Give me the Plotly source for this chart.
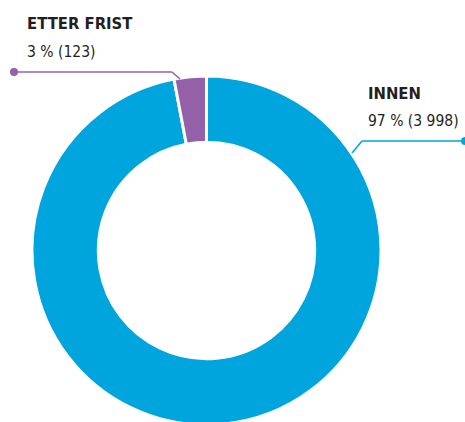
import plotly.graph_objects as go

# data
labels = ["INNEN", "ETTER FRIST"]
values = [3998, 123]
percents = ["97 %", "3 %"]
counts = ["3 998", "123"]
colors = ["#00A5DE", "#9461A9"]

W, H = 465, 426
FONT = "DejaVu Sans Condensed, Liberation Sans Narrow, Roboto, sans-serif"
TEXT_COLOR = "#231F20"


def px(x, y):
    """pixel position -> paper coords"""
    return x / W, 1 - y / H


fig = go.Figure(
    go.Pie(
        labels=labels,
        values=values,
        hole=0.62,
        sort=False,
        direction="clockwise",
        rotation=0,
        marker=dict(colors=colors, line=dict(color="white", width=3)),
        textinfo="none",
        hoverinfo="label+value",
        domain=dict(x=[32 / W, 381 / W], y=[1 - 425 / H, 1 - 76 / H]),
    )
)

# label blocks
blocks = [
    (labels[1], f"{percents[1]} ({counts[1]})", 26, 23, 52),
    (labels[0], f"{percents[0]} ({counts[0]})", 367, 94, 121),
]
for head, sub, x, y1, y2 in blocks:
    ax, ay = px(x, y1)
    fig.add_annotation(x=ax, y=ay, xref="paper", yref="paper", text=f"<b>{head}</b>",
                       showarrow=False, xanchor="left", yanchor="middle", xshift=-1,
                       font=dict(family=FONT, size=16.5, color=TEXT_COLOR))
    ax, ay = px(x, y2)
    fig.add_annotation(x=ax, y=ay, xref="paper", yref="paper", text=sub,
                       showarrow=False, xanchor="left", yanchor="middle", xshift=-1,
                       font=dict(family=FONT, size=15.5, color=TEXT_COLOR))

# leader lines
leaders = [
    (colors[1], [(14, 72), (172, 72), (180, 79)]),
    (colors[0], [(465, 141), (362, 141), (352, 153)]),
]
for col, pts in leaders:
    for (xa, ya), (xb, yb) in zip(pts[:-1], pts[1:]):
        x0, y0 = px(xa, ya)
        x1, y1 = px(xb, yb)
        fig.add_shape(type="line", xref="paper", yref="paper", x0=x0, y0=y0, x1=x1, y1=y1,
                      line=dict(color=col, width=1.5))
    cx, cy = px(*pts[0])
    r = 4
    fig.add_shape(type="circle", xref="paper", yref="paper",
                  x0=cx - r / W, x1=cx + r / W, y0=cy - r / H, y1=cy + r / H,
                  fillcolor=col, line=dict(width=0))

fig.update_layout(
    width=W,
    height=H,
    margin=dict(l=0, r=0, t=0, b=0),
    showlegend=False,
    paper_bgcolor="white",
    plot_bgcolor="white",
)

fig.write_html("out.html", config={"displayModeBar": False},
               post_script="document.body.style.margin='0';document.body.style.overflow='hidden';")
